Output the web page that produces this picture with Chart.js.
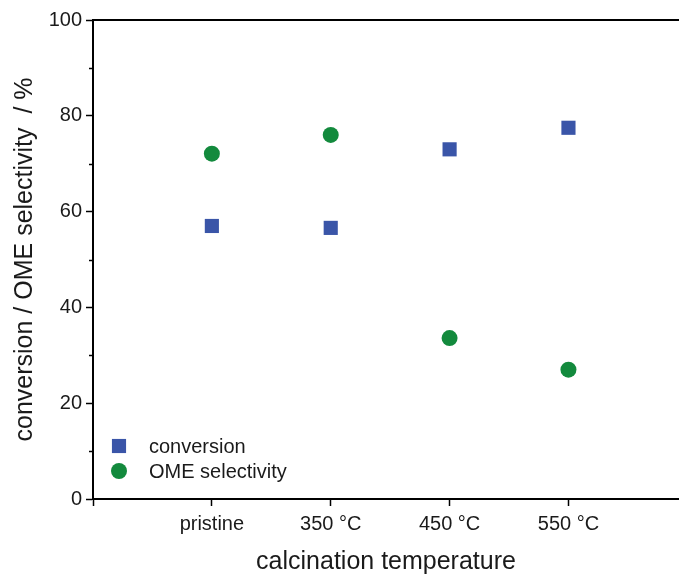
<!DOCTYPE html>
<html><head><meta charset="utf-8">
<script src="https://cdn.jsdelivr.net/npm/chart.js@4/dist/chart.umd.min.js"></script>
<style>html,body{margin:0;padding:0;background:#fff}#wrap{width:679px;height:575px}</style>
</head><body><div id="wrap"><canvas id="c" width="679" height="575"></canvas></div>
<script>
const categories = ['pristine', '350 °C', '450 °C', '550 °C'];
const conversion = [57.0, 56.6, 73.0, 77.5];
const selectivity = [72.1, 76.0, 33.6, 27.0];
const yTicks = [0, 20, 40, 60, 80, 100];
const yMinorTicks = [10, 30, 50, 70, 90];
const xTicks = [0, 1, 2, 3, 4];
const seriesNames = ['conversion', 'OME selectivity'];

const FONT = '"Liberation Sans", Arial, Helvetica, sans-serif';
const BLUE = '#3a55a8';
const GREEN = '#138a3d';

const toPoints = arr => arr.map((v, i) => ({ x: i + 1, y: v }));

const framePlugin = {
  id: 'frame',
  afterDraw(chart) {
    const { ctx, chartArea: a, scales } = chart;
    ctx.save();
    ctx.strokeStyle = '#000';
    ctx.lineWidth = 2;
    ctx.beginPath();
    ctx.moveTo(a.left - 1, a.top);
    ctx.lineTo(a.right, a.top);
    ctx.stroke();
    ctx.lineWidth = 1.5;
    ctx.beginPath();
    yMinorTicks.forEach(v => {
      const y = Math.round(scales.y.getPixelForValue(v)) + 0.5;
      ctx.moveTo(a.left - 4, y);
      ctx.lineTo(a.left, y);
    });
    ctx.stroke();
    // legend
    ctx.font = '20px ' + FONT;
    ctx.textBaseline = 'middle';
    ctx.textAlign = 'left';
    chart.data.datasets.forEach((ds, i) => {
      const cy = a.bottom - 53 + i * 25;
      const cx = a.left + 26;
      ctx.fillStyle = ds.backgroundColor;
      ctx.beginPath();
      if (ds.pointStyle === 'rect') {
        const s = Math.SQRT1_2 * ds.pointRadius;
        ctx.rect(cx - s, cy - s, 2 * s, 2 * s);
      } else {
        ctx.arc(cx, cy, ds.pointRadius, 0, Math.PI * 2);
      }
      ctx.fill();
      ctx.fillStyle = '#1a1a1a';
      ctx.fillText(ds.label, a.left + 56, cy + 1);
    });
    ctx.restore();
  }
};

new Chart(document.getElementById('c'), {
  type: 'scatter',
  data: {
    datasets: [
      { label: seriesNames[0], data: toPoints(conversion), pointStyle: 'rect', pointRadius: 10,
        backgroundColor: BLUE, borderWidth: 0, pointHoverRadius: 10 },
      { label: seriesNames[1], data: toPoints(selectivity), pointStyle: 'circle', pointRadius: 8,
        backgroundColor: GREEN, borderWidth: 0, pointHoverRadius: 8 }
    ]
  },
  options: {
    responsive: false,
    devicePixelRatio: 1,
    animation: false,
    events: [],
    layout: { autoPadding: false, padding: { top: 20, right: 0, left: 0, bottom: 0 } },
    plugins: { legend: { display: false }, tooltip: { enabled: false } },
    scales: {
      x: {
        type: 'linear', min: 0, max: 4.93,
        afterBuildTicks(s) { s.ticks = xTicks.map(v => ({ value: v })); },
        afterFit(s) { s.height = 76; s.paddingLeft = 0; s.paddingRight = 0; },
        border: { color: '#000', width: 2 },
        grid: { drawOnChartArea: false, tickLength: 7, tickColor: '#000', tickWidth: 1.5 },
        ticks: {
          padding: 6, color: '#1a1a1a', font: { family: FONT, size: 20 },
          autoSkip: false, maxRotation: 0,
          callback: v => (v >= 1 && v <= categories.length) ? categories[v - 1] : ''
        },
        title: { display: true, text: 'calcination temperature', color: '#1a1a1a',
          font: { family: FONT, size: 25 }, padding: { top: 0, bottom: -2 } }
      },
      y: {
        type: 'linear', min: 0, max: 100,
        afterBuildTicks(s) { s.ticks = yTicks.map(v => ({ value: v })); },
        afterFit(s) { s.width = 93; s.paddingTop = 0; s.paddingBottom = 0; },
        border: { color: '#000', width: 2 },
        grid: { drawOnChartArea: false, tickLength: 7, tickColor: '#000', tickWidth: 1.5 },
        ticks: { padding: 4, color: '#1a1a1a', font: { family: FONT, size: 20 } },
        title: { display: true, text: 'conversion / OME selectivity  / %', color: '#1a1a1a',
          font: { family: FONT, size: 25 }, padding: { top: 10, bottom: 0 } }
      }
    }
  },
  plugins: [framePlugin]
});
</script></body></html>
